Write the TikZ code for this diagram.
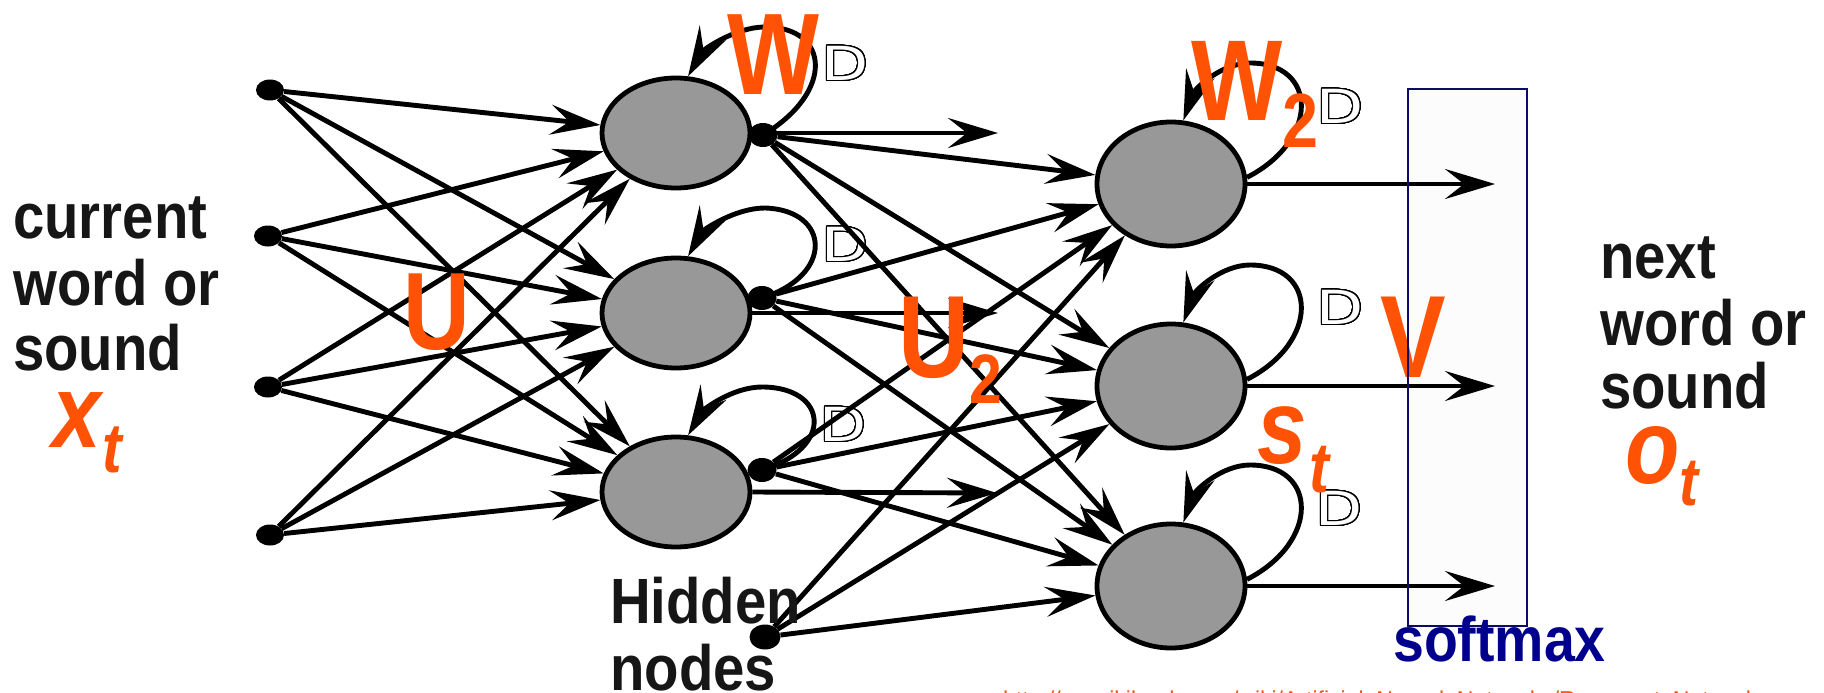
\documentclass[tikz,border=0pt]{standalone}
\usepackage{fontspec}
\usepackage{graphicx}
\usepackage{contour}
\usetikzlibrary{shapes.geometric,arrows.meta}
\setmainfont{Liberation Sans}
\newfontfamily\labelfont[FakeStretch=0.88]{Liberation Sans}
\newfontfamily\symfont[FakeStretch=0.84]{Liberation Sans}
\newfontfamily\delayfont[FakeStretch=1.3]{DejaVu Sans}
\definecolor{accent}{RGB}{255,82,5}
\definecolor{boxnavy}{RGB}{12,12,100}
\definecolor{smnavy}{RGB}{0,0,140}
\definecolor{unitgray}{RGB}{152,152,152}
\definecolor{inktext}{RGB}{22,22,22}
\contourlength{1.4pt}
\contournumber{32}
\newcommand{\fsz}[1]{\fontsize{#1}{#1}\selectfont}
\newcommand{\delayD}{\contour{black}{D}}
\tikzset{
  unit/.style={ellipse, draw=black, line width=4.8pt, fill=unitgray, inner sep=0pt,
    minimum width=148pt, minimum height=110pt},
  outunit/.style={unit, minimum height=124pt},
  indot/.style={ellipse, fill=black, inner sep=0pt, minimum width=28pt, minimum height=21pt},
  hdot/.style={ellipse, fill=black, inner sep=0pt, minimum width=29pt, minimum height=24pt},
  conn/.style={line width=4.9pt, -{Stealth[length=50pt, width=30pt, inset=19pt]}},
  wordlbl/.style={inner sep=0pt, anchor=base west, text=inktext, font=\labelfont\bfseries\fsz{64}},
  sym/.style={inner sep=0pt, anchor=base west, text=accent, font=\symfont\bfseries},
  delay/.style={inner sep=0pt, text=white, font=\delayfont\fsz{47}},
}
\begin{document}
\begin{tikzpicture}[x=1pt, y=-1pt]
\useasboundingbox (0,0) rectangle (1824,693);
\clip (0,0) rectangle (1824,693);
\fill[white] (0,0) rectangle (1824,693);

% faint interior of the softmax stage
\fill[black!1] (1408,89) rectangle (1527,626);

% delay elements on the recurrent loops
\node[delay] (dH1) at (845,64) {\delayD};
\node[delay] (dH2) at (845,245) {\delayD};
\node[delay] (dH3) at (843,425) {\delayD};
\node[delay] (dL1) at (1340,107) {\delayD};
\node[delay] (dL2) at (1340,308) {\delayD};
\node[delay] (dL3) at (1339,509) {\delayD};

% input units
\node[indot] (I1) at (270,90) {};
\node[indot] (I2) at (268,236) {};
\node[indot] (I3) at (268,387) {};
\node[indot] (I4) at (270,535) {};

% first hidden layer with output taps
\node[unit] (H1) at (676,133) {};
\node[unit] (H2) at (676,313) {};
\node[unit] (H3) at (676,492) {};
\node[hdot] (D1) at (763,135) {};
\node[hdot] (D2) at (762,298) {};
\node[hdot] (D3) at (762,470) {};
\node[hdot, minimum width=31pt, minimum height=25pt] (B) at (765,637) {};

% second hidden layer
\node[outunit] (L1) at (1171,184) {};
\node[outunit] (L2) at (1171,386) {};
\node[outunit] (L3) at (1171,586) {};

% free ends of the open arrows
\coordinate (c1) at (998,133);
\coordinate (c2) at (998,313);
\coordinate (c3) at (997,493);
\coordinate (o1) at (1495,184);
\coordinate (o2) at (1495,386);
\coordinate (o3) at (1495,586);

% input to first hidden layer
\foreach \i in {1,...,4}
  \foreach \j in {1,2,3}
    \draw[conn] (I\i) -- (H\j);

% first to second hidden layer
\foreach \s in {D1,D2,D3,B}
  \foreach \j in {1,2,3}
    \draw[conn] (\s) -- (L\j);

% open arrows
\foreach \j in {1,2,3} {
  \draw[conn] (H\j.east) -- (c\j);
  \draw[conn] (L\j.east) -- (o\j);
}

% recurrent loops, first hidden layer
\draw[conn] (D1.center) .. controls (835,92) and (830,27) .. (765,27)
  .. controls (735,27) and (703,50) .. (H1.78);
\draw[conn] (D2.center) .. controls (835,275) and (830,210) .. (765,208)
  .. controls (735,208) and (703,230) .. (H2.78);
\draw[conn] (D3.center) .. controls (835,448) and (828,387) .. (762,387)
  .. controls (732,387) and (703,410) .. (H3.78);

% recurrent loops, second hidden layer
\draw[conn] (L1.5) .. controls (1320,140) and (1318,63) .. (1250,63)
  .. controls (1222,63) and (1195,88) .. (L1.79);
\draw[conn] (L2.5) .. controls (1320,342) and (1318,265) .. (1250,265)
  .. controls (1222,265) and (1195,290) .. (L2.79);
\draw[conn] (L3.5) .. controls (1320,542) and (1318,465) .. (1250,465)
  .. controls (1222,465) and (1195,490) .. (L3.79);

% weight and state labels
\node[sym] (lW) at (727,95) {\fsz{116}W};
\node[sym] (lW2) at (1191,120) {\fsz{115}W\raisebox{-28pt}{\fsz{77}2}};
\node[sym] (lU) at (403,349) {\fsz{110}U};
\node[sym] (lU2) at (898,377) {\fsz{117}U\raisebox{-26pt}{\fsz{70}2}};
\node[sym] (lV) at (1380,377) {\fsz{117}V};
\node[sym] (ls) at (1257,463) {\itshape\fsz{106}s\kern3pt\raisebox{-29pt}{\fsz{71}t}};
\node[sym] (lo) at (1625,483) {\itshape\fsz{106}o\raisebox{-22pt}{\fsz{68}t}};
\node[sym] (lx) at (52,447) {\itshape\fsz{104}x\kern2pt\raisebox{-25pt}{\fsz{70}t}};

% word labels
\node[wordlbl] (in1) at (13,238) {current};
\node[wordlbl] (in2) at (13,305) {word or};
\node[wordlbl] (in3) at (13,370) {sound};
\node[wordlbl] (out1) at (1600,278) {next};
\node[wordlbl] (out2) at (1600,345) {word or};
\node[wordlbl] (out3) at (1600,408) {sound};
\node[wordlbl] (hid1) at (610,623) {Hidden};
\node[wordlbl] (hid2) at (610,690) {nodes};

% softmax stage
\draw[boxnavy, line width=1.6pt] (1408,89) rectangle (1527,626);
\node[wordlbl, text=smnavy, font=\labelfont\bfseries\fsz{63}] (sm) at (1393,661) {softmax};

% source reference
\node[inner sep=0pt, anchor=base west, text=accent, font=\fsz{23}] (src) at (1003,707)
  {http://en.wikibooks.org/wiki/Artificial\_Neural\_Networks/Recurrent\_Networks};
\end{tikzpicture}
\end{document}
